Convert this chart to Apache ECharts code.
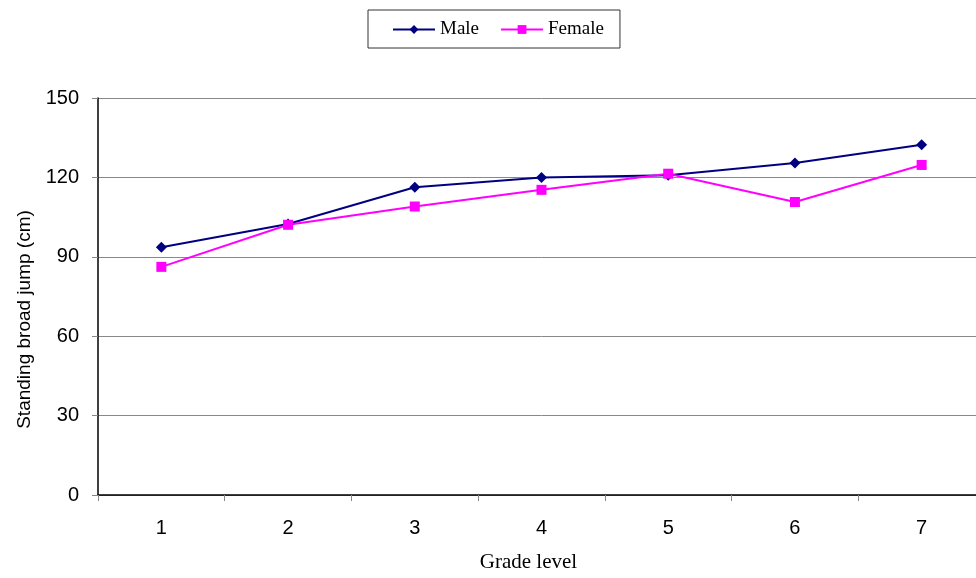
<!DOCTYPE html>
<html><head><meta charset="utf-8">
<script src="https://cdn.jsdelivr.net/npm/echarts@6/dist/echarts.min.js"></script>
<style>html,body{margin:0;padding:0;background:#fff;overflow:hidden;width:976px;height:578px}#c{width:990px;height:578px}</style>
</head><body><div id="c"></div>
<script>
const categories = ['1','2','3','4','5','6','7'];
const maleValues = [93.6, 102.4, 116.3, 120.0, 120.8, 125.4, 132.3];
const femaleValues = [86.2, 102.1, 109.0, 115.3, 121.4, 110.7, 124.7];
const seriesNames = ['Male', 'Female'];
const yTicks = {min: 0, max: 150, interval: 30};

const chart = echarts.init(document.getElementById('c'));
chart.setOption({
  animation: false,
  backgroundColor: '#fff',
  legend: {
    left: 368, top: 10,
    padding: [10, 16, 9, 24],
    borderColor: '#333', borderWidth: 1,
    itemWidth: 42, itemHeight: 11, itemGap: 21,
    textStyle: {fontFamily: 'Liberation Serif', fontSize: 19, color: '#000'},
    data: seriesNames
  },
  grid: {left: 98, right: 5, top: 98, bottom: 82, containLabel: false},
  xAxis: {
    type: 'category', data: categories, boundaryGap: true,
    name: 'Grade level', nameLocation: 'middle', nameGap: 57,
    nameTextStyle: {fontFamily: 'Liberation Serif', fontSize: 21, color: '#000', padding: [0, 26, 0, 0]},
    axisLine: {lineStyle: {color: '#000', width: 1.5}},
    axisTick: {show: true, length: 6, lineStyle: {color: '#888'}},
    axisLabel: {margin: 23, fontFamily: 'Liberation Sans', fontSize: 20, color: '#000'},
    splitLine: {show: false}
  },
  yAxis: {
    type: 'value', min: yTicks.min, max: yTicks.max, interval: yTicks.interval,
    name: 'Standing broad jump (cm)', nameLocation: 'middle', nameGap: 64, nameRotate: 90,
    nameTextStyle: {fontFamily: 'Liberation Sans', fontSize: 19, color: '#000', padding: [0, 46, 0, 0]},
    axisLine: {show: true, lineStyle: {color: '#000', width: 1.5}},
    axisTick: {show: true, length: 6, lineStyle: {color: '#888'}},
    axisLabel: {margin: 19, fontFamily: 'Liberation Sans', fontSize: 20, color: '#000'},
    splitLine: {show: true, lineStyle: {color: '#888', width: 1}}
  },
  series: [
    {name: seriesNames[0], type: 'line', data: maleValues, symbol: 'diamond', symbolSize: 11,
     lineStyle: {color: '#000080', width: 2}, itemStyle: {color: '#000080'}},
    {name: seriesNames[1], type: 'line', data: femaleValues, symbol: 'rect', symbolSize: 10,
     lineStyle: {color: '#FF00FF', width: 2}, itemStyle: {color: '#FF00FF'}}
  ]
});
</script></body></html>
